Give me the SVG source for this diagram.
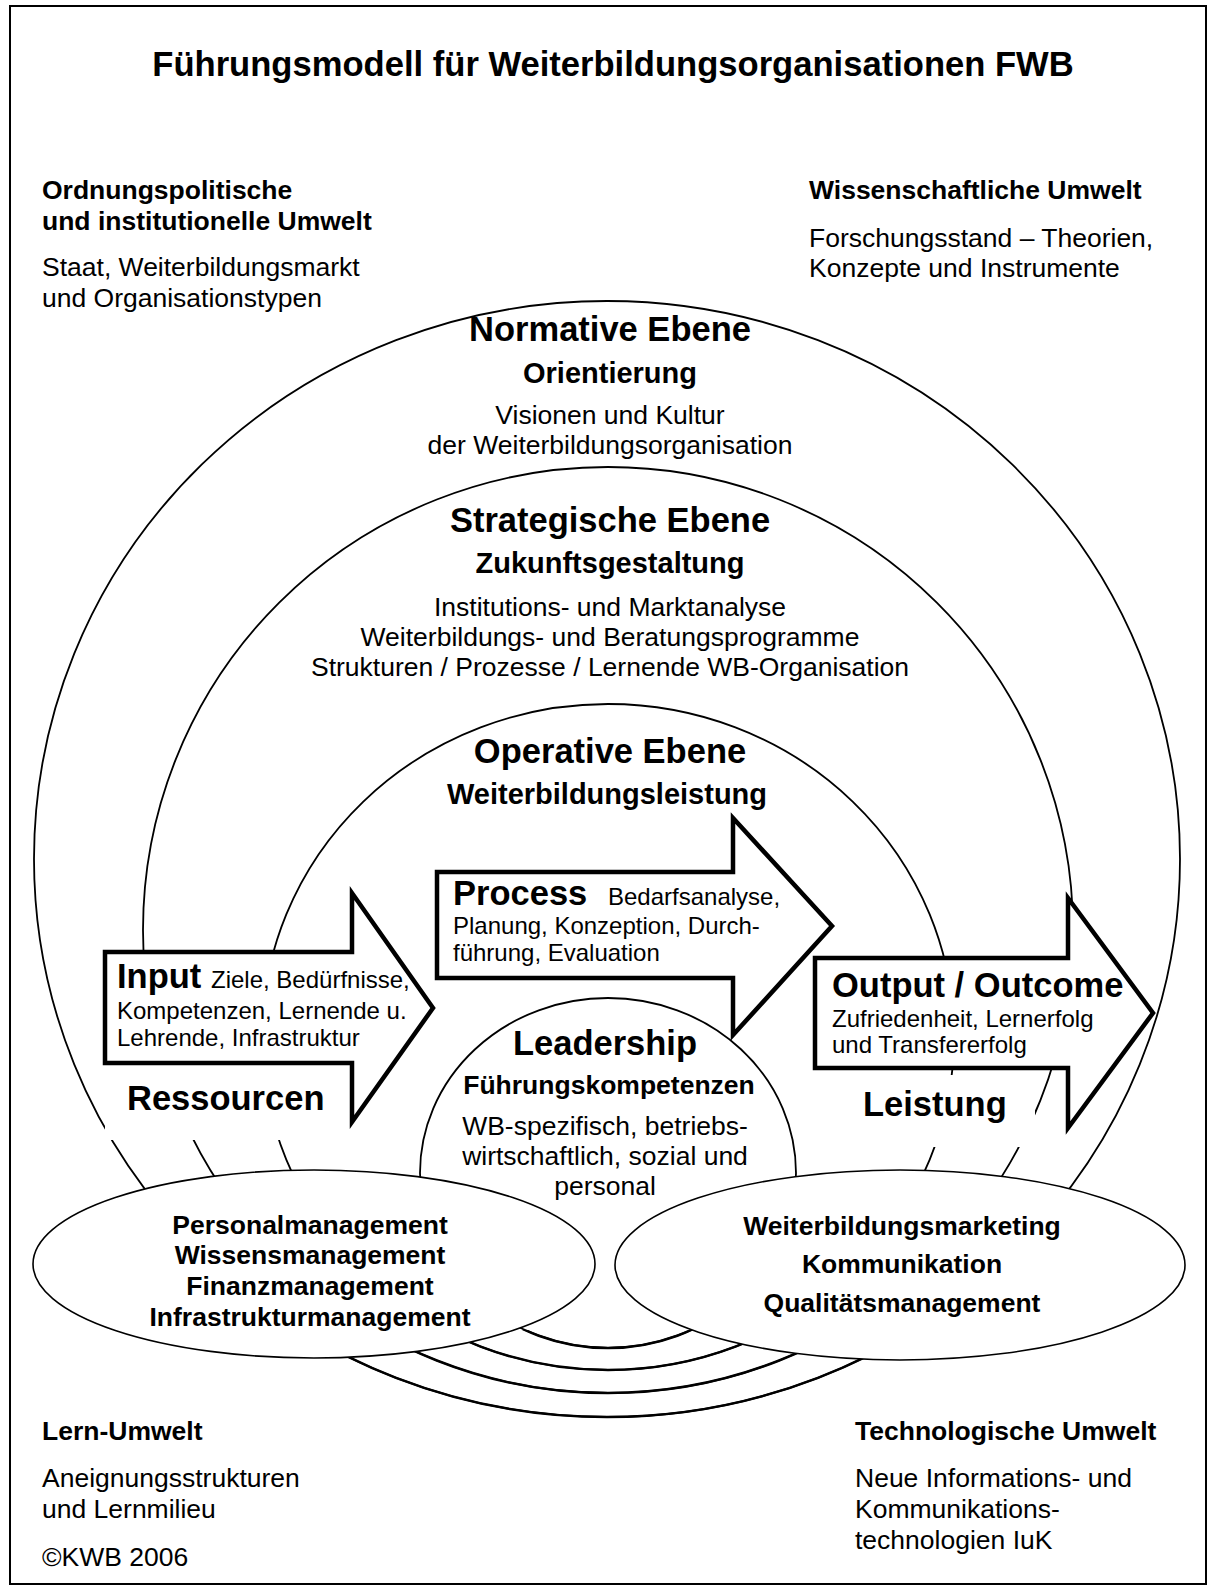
<svg xmlns="http://www.w3.org/2000/svg" width="1208" height="1585" viewBox="0 0 1208 1585">
<style>
text{font-family:"Liberation Sans",Arial,sans-serif;fill:#000}
.t{font-size:34.6px;font-weight:bold}
.h1{font-size:34.5px;font-weight:bold}
.h2{font-size:29px;font-weight:bold}
.b{font-size:26.5px;font-weight:bold}
.r{font-size:26.5px}
.s{font-size:24px}
.m{text-anchor:middle}
.ring{fill:none;stroke:#000;stroke-width:1.8}
.ringb{fill:none;stroke:#000;stroke-width:2.5}
.arrow{fill:#fff;stroke:#000;stroke-width:4.5;stroke-linejoin:miter;stroke-miterlimit:10}
.ell{fill:#fff;stroke:#000;stroke-width:1.6}
.mask{fill:#fff;stroke:none}
</style>
<defs>
<clipPath id="bottomclip"><rect x="300" y="1330" width="620" height="110"/></clipPath>
</defs>
<rect x="0" y="0" width="1208" height="1585" fill="#fff"/>
<rect id="frame" x="10" y="6" width="1196" height="1578" fill="none" stroke="#000" stroke-width="2"/>
<text class="t m" x="613" y="76">Führungsmodell für Weiterbildungsorganisationen FWB</text>

<g id="env-ordnungspolitisch">
<text class="b" x="42" y="199">Ordnungspolitische</text>
<text class="b" x="42" y="230">und institutionelle Umwelt</text>
<text class="r" x="42" y="276">Staat, Weiterbildungsmarkt</text>
<text class="r" x="42" y="307">und Organisationstypen</text>
</g>
<g id="env-wissenschaftlich">
<text class="b" x="809" y="199">Wissenschaftliche Umwelt</text>
<text class="r" x="809" y="247">Forschungsstand – Theorien,</text>
<text class="r" x="809" y="277">Konzepte und Instrumente</text>
</g>
<g id="env-lern">
<text class="b" x="42" y="1440">Lern-Umwelt</text>
<text class="r" x="42" y="1487">Aneignungsstrukturen</text>
<text class="r" x="42" y="1518">und Lernmilieu</text>
<text class="r" x="42" y="1566">©KWB 2006</text>
</g>
<g id="env-technologisch">
<text class="b" x="855" y="1440">Technologische Umwelt</text>
<text class="r" x="855" y="1487">Neue Informations- und</text>
<text class="r" x="855" y="1518">Kommunikations-</text>
<text class="r" x="855" y="1549">technologien IuK</text>
</g>

<g id="rings">
<ellipse id="normative-ring" class="ring" cx="607" cy="859" rx="573" ry="558"/>
<ellipse id="strategic-ring" class="ring" cx="608" cy="930" rx="465" ry="463"/>
<ellipse id="operative-ring" class="ring" cx="608" cy="1037" rx="346" ry="333"/>
<ellipse id="leadership-ring" class="ring" cx="608" cy="1173" rx="188" ry="175"/>
<g clip-path="url(#bottomclip)">
<ellipse class="ringb" cx="607" cy="859" rx="573" ry="558"/>
<ellipse class="ringb" cx="608" cy="930" rx="465" ry="463"/>
<ellipse class="ringb" cx="608" cy="1037" rx="346" ry="333"/>
<ellipse class="ringb" cx="608" cy="1173" rx="188" ry="175"/>
</g>
</g>

<g id="normative">
<text class="h1 m" x="610" y="341">Normative Ebene</text>
<text class="h2 m" x="610" y="383">Orientierung</text>
<text class="r m" x="610" y="424">Visionen und Kultur</text>
<text class="r m" x="610" y="454">der Weiterbildungsorganisation</text>
</g>
<g id="strategic">
<text class="h1 m" x="610" y="532">Strategische Ebene</text>
<text class="h2 m" x="610" y="573">Zukunftsgestaltung</text>
<text class="r m" x="610" y="616">Institutions- und Marktanalyse</text>
<text class="r m" x="610" y="646">Weiterbildungs- und Beratungsprogramme</text>
<text class="r m" x="610" y="676">Strukturen / Prozesse / Lernende WB-Organisation</text>
</g>
<g id="operative">
<text class="h1 m" x="610" y="763">Operative Ebene</text>
<text class="h2 m" x="607" y="804">Weiterbildungsleistung</text>
</g>

<g id="ressourcen">
<rect class="mask" x="105" y="1060" width="245" height="80"/>
<text class="h1" x="127" y="1110">Ressourcen</text>
</g>
<g id="leistung">
<rect class="mask" x="855" y="1075" width="180" height="72"/>
<text class="h1" x="863" y="1116">Leistung</text>
</g>

<g id="input">
<path class="arrow" d="M105,952 H352 V893 L433,1008 L352,1122 V1063 H105 Z"/>
<text class="h1" x="117" y="988">Input</text>
<text class="s" x="211" y="988">Ziele, Bedürfnisse,</text>
<text class="s" x="117" y="1019">Kompetenzen, Lernende u.</text>
<text class="s" x="117" y="1046">Lehrende, Infrastruktur</text>
</g>
<g id="process">
<path class="arrow" d="M437,872 H733 V818 L832,926 L733,1035 V978 H437 Z"/>
<text class="h1" x="453" y="905">Process</text>
<text class="s" x="608" y="905">Bedarfsanalyse,</text>
<text class="s" x="453" y="934">Planung, Konzeption, Durch-</text>
<text class="s" x="453" y="961">führung, Evaluation</text>
</g>
<g id="output">
<path class="arrow" d="M815,958 H1068 V898 L1153,1013 L1068,1128 V1068 H815 Z"/>
<text class="h1" x="832" y="997">Output / Outcome</text>
<text class="s" x="832" y="1027">Zufriedenheit, Lernerfolg</text>
<text class="s" x="832" y="1053">und Transfererfolg</text>
</g>

<g id="leadership">
<text class="h1 m" x="605" y="1055">Leadership</text>
<text class="b m" x="609" y="1094">Führungskompetenzen</text>
<text class="r m" x="605" y="1135">WB-spezifisch, betriebs-</text>
<text class="r m" x="605" y="1165">wirtschaftlich, sozial und</text>
<text class="r m" x="605" y="1195">personal</text>
</g>

<g id="management-left">
<ellipse class="ell" cx="314" cy="1264" rx="281" ry="94"/>
<text class="b m" x="310" y="1234">Personalmanagement</text>
<text class="b m" x="310" y="1264">Wissensmanagement</text>
<text class="b m" x="310" y="1295">Finanzmanagement</text>
<text class="b m" x="310" y="1326">Infrastrukturmanagement</text>
</g>
<g id="management-right">
<ellipse class="ell" cx="900" cy="1265" rx="285" ry="95"/>
<text class="b m" x="902" y="1235">Weiterbildungsmarketing</text>
<text class="b m" x="902" y="1273">Kommunikation</text>
<text class="b m" x="902" y="1312">Qualitätsmanagement</text>
</g>
</svg>
